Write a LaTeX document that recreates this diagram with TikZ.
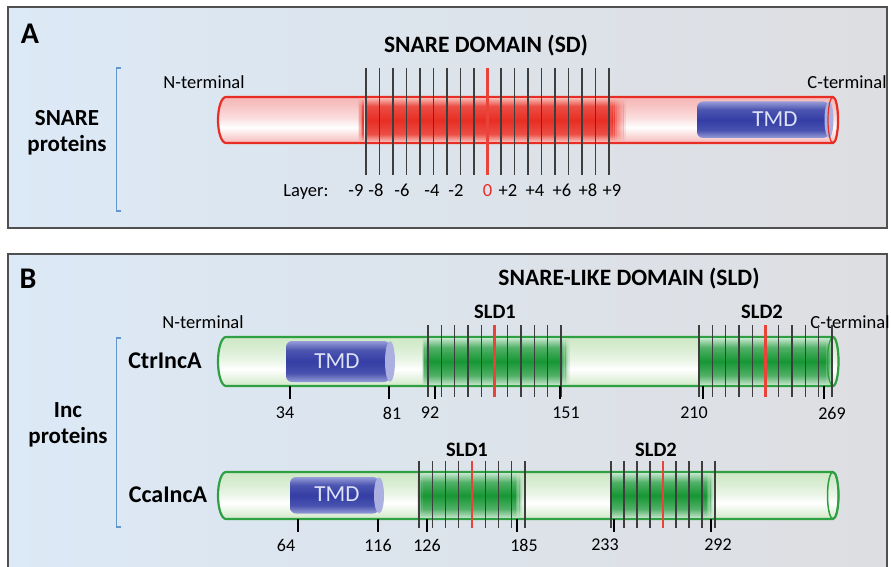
\documentclass[tikz,border=0pt]{standalone}
\usepackage{fontspec}
\setmainfont{Carlito}
\usetikzlibrary{positioning}

\definecolor{panelblue}{RGB}{220,233,246}
\definecolor{panelgray}{RGB}{221,222,225}
\definecolor{framegray}{RGB}{80,80,80}
\definecolor{snarered}{RGB}{232,46,36}
\definecolor{tubepink}{RGB}{246,184,184}
\definecolor{incgreen}{RGB}{46,160,66}
\definecolor{bandgreen}{RGB}{22,150,52}
\definecolor{tubegreen}{RGB}{206,232,198}
\definecolor{tmdblue}{RGB}{52,62,165}
\definecolor{tmdlight}{RGB}{150,156,216}
\definecolor{tmdtext}{RGB}{222,226,246}
\definecolor{bracketblue}{RGB}{98,150,204}
\definecolor{layergray}{RGB}{62,62,62}

% cylinder shadings (useful part between 25bp and 75bp)
\pgfdeclareverticalshading{pinktube}{100bp}{color(0bp)=(tubepink); color(25bp)=(tubepink); color(35bp)=(tubepink!40!white); color(42bp)=(white); color(52bp)=(tubepink!45!white); color(66bp)=(tubepink!85!white); color(75bp)=(tubepink); color(100bp)=(tubepink)}
\pgfdeclareverticalshading{greentube}{100bp}{color(0bp)=(tubegreen); color(25bp)=(tubegreen); color(35bp)=(tubegreen!40!white); color(42bp)=(white); color(52bp)=(tubegreen!45!white); color(66bp)=(tubegreen!85!white); color(75bp)=(tubegreen); color(100bp)=(tubegreen)}
\pgfdeclareverticalshading{redband}{100bp}{color(0bp)=(snarered!30!white); color(25bp)=(snarered!30!white); color(34bp)=(snarered!85!white); color(50bp)=(snarered); color(66bp)=(snarered!85!white); color(75bp)=(snarered!35!white); color(100bp)=(snarered!35!white)}
\pgfdeclareverticalshading{greenband}{100bp}{color(0bp)=(bandgreen!25!white); color(25bp)=(bandgreen!25!white); color(35bp)=(bandgreen!75!white); color(50bp)=(bandgreen); color(65bp)=(bandgreen!75!white); color(75bp)=(bandgreen!25!white); color(100bp)=(bandgreen!25!white)}
\pgfdeclareverticalshading{tmdshade}{100bp}{color(0bp)=(tmdlight); color(25bp)=(tmdlight); color(36bp)=(tmdblue!90!white); color(50bp)=(tmdblue); color(64bp)=(tmdblue!88!white); color(75bp)=(tmdlight); color(100bp)=(tmdlight)}

\tikzset{
  panelbox/.style={draw=framegray, line width=2pt, left color=panelblue, right color=panelgray},
  panelletter/.style={inner sep=0pt, font=\fontsize{30}{34}\selectfont\bfseries},
  heading/.style={inner sep=0pt, font=\fontsize{23.5}{28}\selectfont\bfseries},
  grouplabel/.style={inner sep=0pt, align=center, font=\fontsize{23}{26.5}\selectfont\bfseries},
  protein/.style={inner sep=0pt, font=\fontsize{24}{28}\selectfont\bfseries},
  sldlabel/.style={inner sep=0pt, font=\fontsize{20.5}{24}\selectfont\bfseries},
  terminal/.style={inner sep=0pt, anchor=base, font=\fontsize{18.5}{22}\selectfont},
  numlabel/.style={inner sep=0pt, font=\fontsize{18}{22}\selectfont},
  tmdlabel/.style={inner sep=0pt, text=tmdtext, font=\fontsize{23}{27}\selectfont},
  bracket/.style={draw=bracketblue, line width=1.6pt},
  layerline/.style={draw=layergray, line width=1.3pt},
  zeroline/.style={draw=snarered!90!white, line width=2.3pt},
  tickmark/.style={draw=black, line width=2.4pt},
}

\begin{document}
\begin{tikzpicture}[x=1pt, y=-1pt]
    \useasboundingbox (0,0) rectangle (891,567);
    \fill[white] (0,0) rectangle (891,567);

    % Panel A
    \path[panelbox] (8,7) rectangle (887,228);
    \node[panelletter] (letA) at (30,33.5) {A};
    \node[heading] (sdtitle) at (486,46) {SNARE DOMAIN (SD)};
    \draw[bracket] (121,68) -- (116.5,68) -- (116.5,211) -- (121,211);
    \node[grouplabel] (snareprot) at (67,133) {SNARE\\proteins};
    \node[terminal] (ntermA) at (204,89) {N-terminal};
    \node[terminal] (ctermA) at (847,89) {C-terminal};

    % SNARE tube
    \shadedraw[shading=pinktube, draw=snarered, line width=2.2pt]
        (833,97) -- (226,97) arc[start angle=270, end angle=90, x radius=8, y radius=23]
        -- (833,143) arc[start angle=90, end angle=-90, x radius=5, y radius=23] -- cycle;
    \shade[shading=redband] (365,98.2) rectangle (610,141.8);
    \foreach \k [evaluate=\k as \op using 1-\k/8] in {1,...,7} {
        \shade[shading=redband, opacity=\op] ({608+\k*2.2},98.2) rectangle ++(2.2,43.6);
        \shade[shading=redband, opacity=\op] ({365-\k*0.8},98.2) rectangle ++(-0.8,43.6);
    }
    \shade[shading=tmdshade, rounded corners=6pt] (697,101.5) rectangle (829,138);
    \fill[tmdlight!80!white] (829,119.75) ellipse[x radius=4.5, y radius=18.2];
    \node[tmdlabel] (tmdA) at (775,119.5) {TMD};
    \draw[snarered, line width=1.2pt] (833,120) ellipse[x radius=5, y radius=23];

    % layers
    \foreach \i in {0,...,18}
        \draw[layerline] ({366+\i*13.5},68) -- ({366+\i*13.5},175);
    \draw[zeroline] (487.5,68) -- (487.5,175);
    \node[terminal] (layertxt) at (306,196) {Layer:};
    \foreach \lx/\lt in {356/-9, 376/-8, 402/-6, 432/-4, 456/-2, 508/+2, 535/+4, 562/+6, 588/+8, 612/+9}
        \node[terminal] at (\lx,196) {\lt};
    \node[terminal, text=snarered] (layer0) at (487.5,196) {0};

    % Panel B
    \path[panelbox] (8,254) rectangle (887,580);
    \node[panelletter] (letB) at (28,279) {B};
    \node[heading] (sldtitle) at (629,279) {SNARE-LIKE DOMAIN (SLD)};
    \draw[bracket] (121,338) -- (116.5,338) -- (116.5,527) -- (121,527);
    \node[grouplabel] (incprot) at (68,425) {Inc\\proteins};
    \node[terminal] (ntermB) at (203,328) {N-terminal};
    \node[terminal] (ctermB) at (850,328) {C-terminal};

    % CtrIncA
    \node[protein] (ctr) at (165,361) {CtrIncA};
    \shadedraw[shading=greentube, draw=incgreen, line width=2.2pt]
        (833,337) -- (226,337) arc[start angle=270, end angle=90, x radius=8, y radius=24.5]
        -- (833,386) arc[start angle=90, end angle=-90, x radius=5.5, y radius=24.5] -- cycle;
    \shade[shading=greenband] (427,338.2) rectangle (561,384.8);
    \shade[shading=greenband] (699,338.2) rectangle (826,384.8);
    \foreach \k [evaluate=\k as \op using 1-\k/8] in {1,...,7} {
        \shade[shading=greenband, opacity=\op] ({559+\k*1.3},338.2) rectangle ++(1.3,46.6);
        \shade[shading=greenband, opacity=\op] ({427-\k*0.6},338.2) rectangle ++(-0.6,46.6);
        \shade[shading=greenband, opacity=\op] ({824+\k*1.1},338.2) rectangle ++(1.1,46.6);
    }
    \shade[shading=tmdshade, rounded corners=6pt] (286,341) rectangle (390,382);
    \fill[tmdlight!80!white] (390,361.5) ellipse[x radius=5, y radius=20.3];
    \node[tmdlabel] (tmd1) at (337,361) {TMD};
    \draw[incgreen, line width=1.2pt] (833,361.5) ellipse[x radius=5.5, y radius=24.5];
    \node[sldlabel] (ctrsld1) at (495,312) {SLD1};
    \node[sldlabel] (ctrsld2) at (762,312) {SLD2};
    \foreach \i in {0,...,10} {
        \draw[layerline] ({428+\i*13.3},325) -- ({428+\i*13.3},397);
        \draw[layerline] ({699+\i*13.3},325) -- ({699+\i*13.3},397);
    }
    \draw[zeroline] (494.5,325) -- (494.5,397);
    \draw[zeroline] (765.5,325) -- (765.5,397);
    \foreach \tx/\lx/\lt in {290/285/34, 389/392/81, 435/430/92, 560/566/151, 703/694/210, 824/832/269} {
        \draw[tickmark] (\tx,386) -- (\tx,399);
        \node[numlabel] at (\lx,413) {\lt};
    }

    % CcaIncA
    \node[protein] (cca) at (168,494.5) {CcaIncA};
    \shadedraw[shading=greentube, draw=incgreen, line width=2.2pt]
        (833,472) -- (226,472) arc[start angle=270, end angle=90, x radius=8, y radius=23.5]
        -- (833,519) arc[start angle=90, end angle=-90, x radius=5.5, y radius=23.5] -- cycle;
    \shade[shading=greenband] (423,473.2) rectangle (515,517.8);
    \shade[shading=greenband] (612,473.2) rectangle (706,517.8);
    \foreach \k [evaluate=\k as \op using 1-\k/8] in {1,...,7} {
        \shade[shading=greenband, opacity=\op] ({513+\k*1.3},473.2) rectangle ++(1.3,44.6);
        \shade[shading=greenband, opacity=\op] ({423-\k*0.7},473.2) rectangle ++(-0.7,44.6);
        \shade[shading=greenband, opacity=\op] ({704+\k*1.3},473.2) rectangle ++(1.3,44.6);
    }
    \shade[shading=tmdshade, rounded corners=6pt] (290,477) rectangle (379,513.5);
    \fill[tmdlight!80!white] (379,495.25) ellipse[x radius=5, y radius=18];
    \node[tmdlabel] (tmd2) at (337,494.5) {TMD};
    \draw[incgreen, line width=1.5pt] (833,495.5) ellipse[x radius=5.5, y radius=23.5];
    \node[sldlabel] (ccasld1) at (467,450) {SLD1};
    \node[sldlabel] (ccasld2) at (656,450) {SLD2};
    \foreach \i in {0,...,8} {
        \draw[layerline] ({419+\i*13.25},461) -- ({419+\i*13.25},528);
        \draw[layerline] ({611+\i*13},461) -- ({611+\i*13},528);
    }
    \draw[zeroline] (472,461) -- (472,528);
    \draw[zeroline] (663,461) -- (663,528);
    \foreach \tx/\lx/\lt in {298/286/64, 378/378/116, 427/427/126, 517/524/185, 614/605/233, 711/718/292} {
        \draw[tickmark] (\tx,519) -- (\tx,532);
        \node[numlabel] at (\lx,545) {\lt};
    }
\end{tikzpicture}
\end{document}
